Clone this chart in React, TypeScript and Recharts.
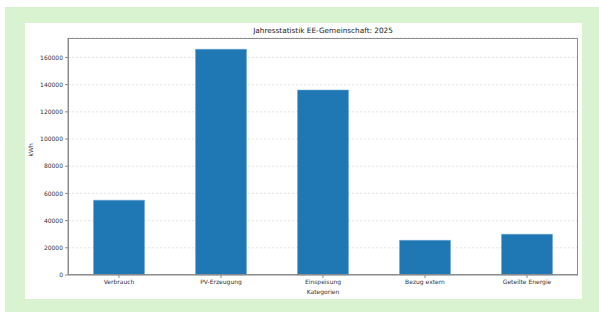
import { Bar, BarChart, CartesianGrid, XAxis, YAxis } from "recharts";

const categories = ["Verbrauch", "PV-Erzeugung", "Einspeisung", "Bezug extern", "Geteilte Energie"];
const energyKwh = [55000, 166000, 136000, 25500, 30000];
const yTicks = [0, 20000, 40000, 60000, 80000, 100000, 120000, 140000, 160000];

const data = categories.map((name, i) => ({ name, value: energyKwh[i] }));

const font = "DejaVu Sans, sans-serif";
const frame = "#8c8c8c";

export default function App() {
  return (
    <div style={{ position: "fixed", left: 0, top: 0, width: 599, height: 312, background: "#fff", fontFamily: font }}>
      <div style={{ position: "absolute", left: 5, top: 7, width: 594, height: 305, background: "#d9f2d0" }} />
      <div style={{ position: "absolute", left: 25, top: 23, width: 557, height: 276, background: "#fff" }}>
        <div
          style={{
            position: "absolute",
            left: 43,
            width: 510,
            top: 3,
            textAlign: "center",
            fontSize: 7.3,
            color: "#222",
          }}
        >
          Jahresstatistik EE-Gemeinschaft: 2025
        </div>
        <BarChart
          width={557}
          height={276}
          data={data}
          margin={{ top: 15, right: 4, left: 0, bottom: 0 }}
          barCategoryGap="25%"
        >
          <CartesianGrid vertical={false} stroke="#d0d0d0" strokeDasharray="2 2" strokeWidth={0.6} />
          <XAxis
            dataKey="name"
            height={24}
            interval={0}
            tickSize={3}
            tickMargin={2}
            stroke={frame}
            tick={{ fontSize: 6, fill: "#333", fontFamily: font }}
            label={{ value: "Kategorien", position: "insideBottom", offset: 5, fontSize: 6, fill: "#333", fontFamily: font }}
          />
          <YAxis
            width={43}
            domain={[0, 174300]}
            ticks={yTicks}
            interval={0}
            tickSize={3}
            tickMargin={2}
            stroke={frame}
            tick={{ fontSize: 6, fill: "#333", fontFamily: font }}
            label={{ value: "kWh", angle: -90, position: "insideLeft", offset: 6, fontSize: 6, fill: "#333", fontFamily: font }}
          />
          <Bar dataKey="value" fill="#1f77b4" stroke="#6aa6d6" strokeWidth={0.5} isAnimationActive={false} />
        </BarChart>
        {/* matplotlib-style box around the plot area */}
        <div
          style={{
            position: "absolute",
            left: 43,
            top: 15,
            width: 510,
            height: 237,
            boxSizing: "border-box",
            border: `1px solid ${frame}`,
            pointerEvents: "none",
          }}
        />
      </div>
    </div>
  );
}
